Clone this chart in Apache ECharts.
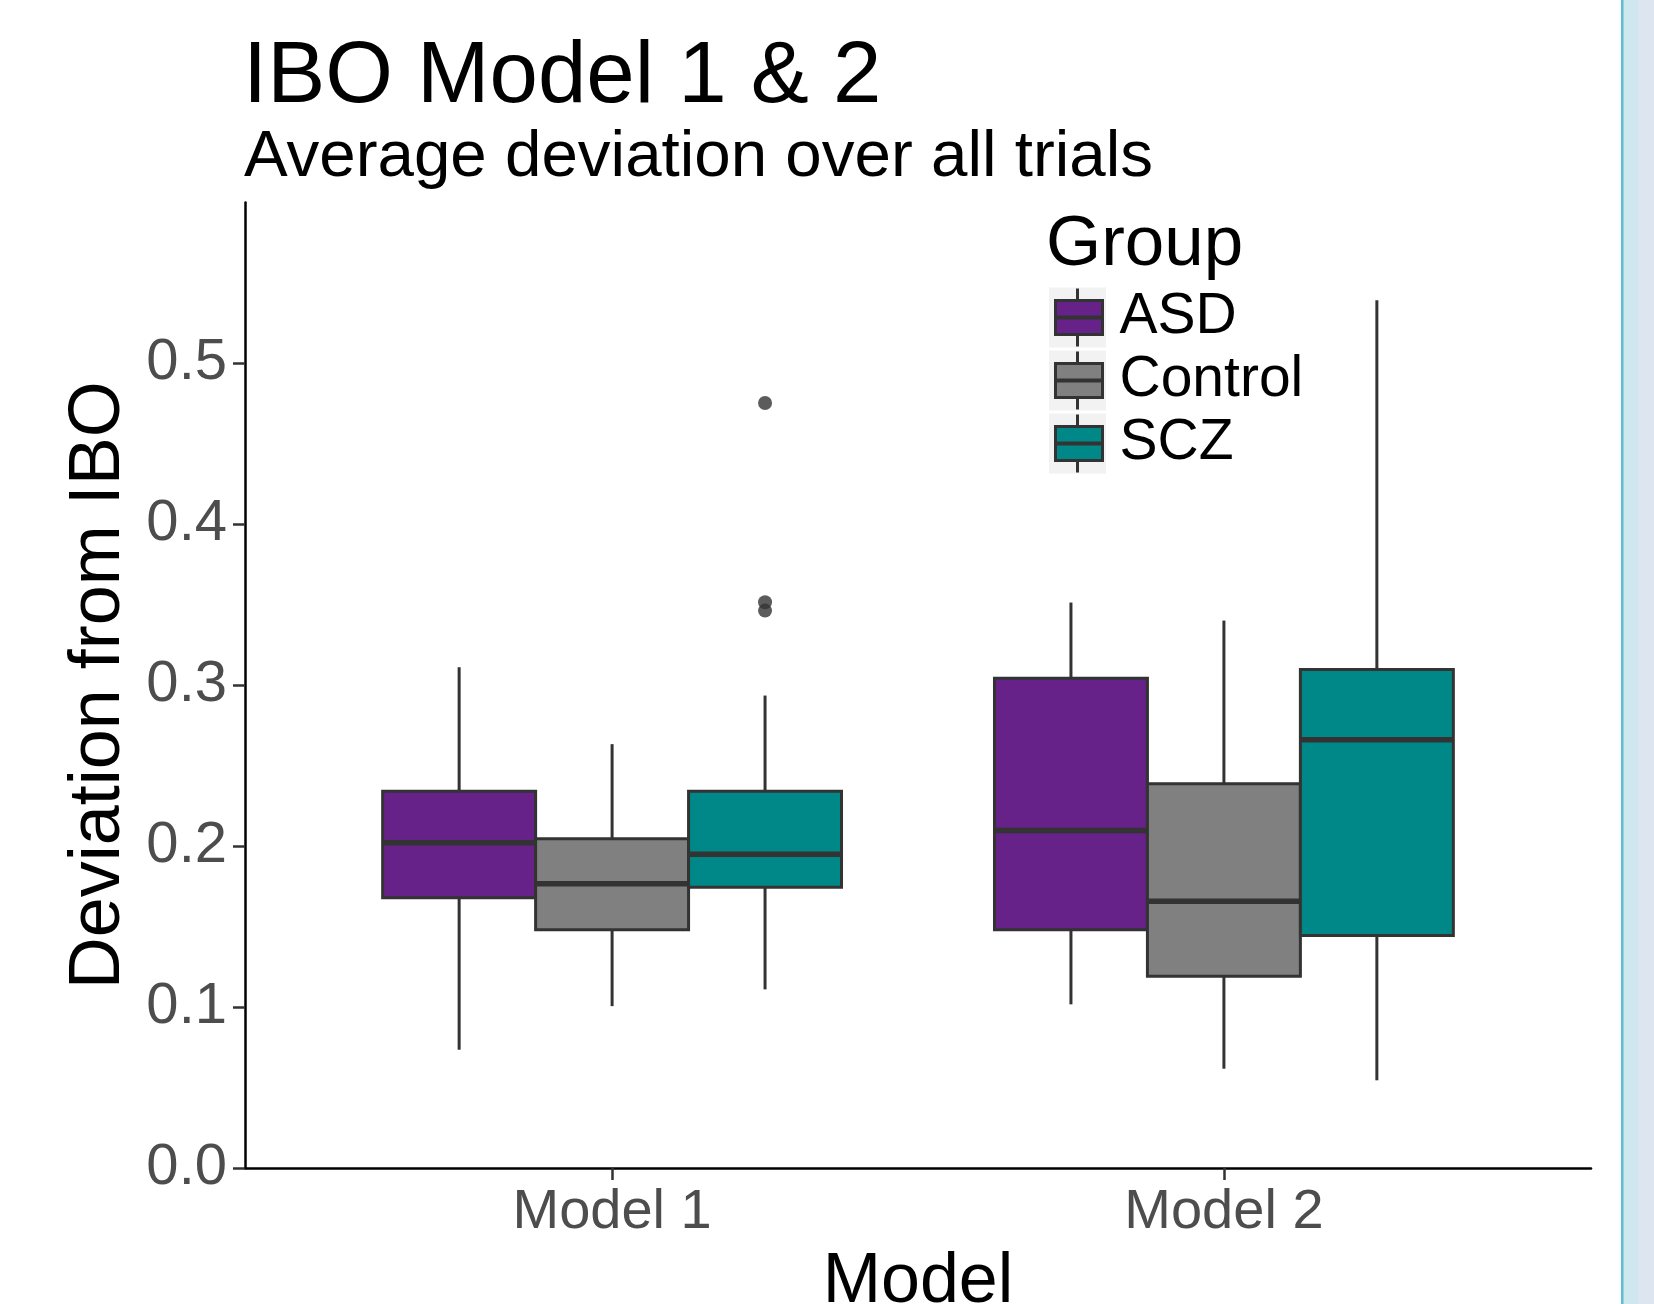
<!DOCTYPE html>
<html>
<head>
<meta charset="utf-8">
<script src="https://cdn.jsdelivr.net/npm/echarts@6/dist/echarts.min.js"></script>
<style>
html,body{margin:0;padding:0;background:#fff;}
#chart{width:1654px;height:1304px;}
</style>
</head>
<body>
<div id="chart"></div>
<script>
// ---- data ----
const categories = ['Model 1', 'Model 2'];
const groups = ['ASD', 'Control', 'SCZ'];
const groupColors = ['#662288', '#808080', '#008888'];
// [low whisker, Q1, median, Q3, high whisker] per model
const asdStats = [[0.0735, 0.1679, 0.2021, 0.2342, 0.3112], [0.1017, 0.1481, 0.2098, 0.3044, 0.3514]];
const controlStats = [[0.1006, 0.1481, 0.1766, 0.2046, 0.2634], [0.0617, 0.1191, 0.1658, 0.2388, 0.3402]];
const sczStats = [[0.1110, 0.1745, 0.1950, 0.2342, 0.2936], [0.0545, 0.1445, 0.2661, 0.3098, 0.5393]];
// outliers: [model index, value]
const sczOutliers = [[0, 0.4754], [0, 0.3516], [0, 0.3464]];
const yTicks = [0, 0.1, 0.2, 0.3, 0.4, 0.5];

const allStats = [asdStats, controlStats, sczStats];
const dodge = 0.25;
const FONT = 'Liberation Sans, Arial, sans-serif';

function makeSeries(gi) {
  const offset = (gi - 1) * dodge;
  const data = allStats[gi].map((s, mi) => [mi + 1 + offset].concat(s));
  return {
    name: groups[gi],
    type: 'custom',
    itemStyle: { color: groupColors[gi] },
    encode: { x: 0, y: [1, 2, 3, 4, 5] },
    data: data,
    renderItem: function (params, api) {
      const x = api.value(0);
      const w = api.size([dodge, 0])[0];
      const pLow = api.coord([x, api.value(1)]);
      const pQ1 = api.coord([x, api.value(2)]);
      const pMed = api.coord([x, api.value(3)]);
      const pQ3 = api.coord([x, api.value(4)]);
      const pHigh = api.coord([x, api.value(5)]);
      const cx = pMed[0];
      const ls = { stroke: '#333333', lineWidth: 3 };
      return {
        type: 'group',
        children: [
          { type: 'line', shape: { x1: cx, y1: pHigh[1], x2: cx, y2: pQ3[1] }, style: ls },
          { type: 'line', shape: { x1: cx, y1: pQ1[1], x2: cx, y2: pLow[1] }, style: ls },
          { type: 'rect', shape: { x: cx - w / 2, y: pQ3[1], width: w, height: pQ1[1] - pQ3[1] },
            style: { fill: groupColors[gi], stroke: '#333333', lineWidth: 3 } },
          { type: 'line', shape: { x1: cx - w / 2, y1: pMed[1], x2: cx + w / 2, y2: pMed[1] },
            style: { stroke: '#333333', lineWidth: 5.5 } }
        ]
      };
    }
  };
}

const series = [makeSeries(0), makeSeries(1), makeSeries(2)];
series.push({
  type: 'scatter',
  name: 'outliers',
  symbol: 'circle',
  symbolSize: 14,
  itemStyle: { color: '#333333' },
  silent: true,
  data: sczOutliers.map(o => [o[0] + 1 + dodge, o[1]])
});

// legend key decorations
const legendLeft = 1054, legendTop = 286, legendStep = 63, keyW = 47, keyH = 34;
const graphics = [
  { type: 'rect', z: 100, shape: { x: 1621, y: 0, width: 33, height: 1304 }, style: { fill: '#cfe7ee' } },
  { type: 'rect', z: 100, shape: { x: 1638, y: 0, width: 16, height: 1304 }, style: { fill: '#dde6f0' } },
  { type: 'rect', z: 100, shape: { x: 1621, y: 0, width: 2.5, height: 1304 }, style: { fill: '#5bbfcf' } }
];
groups.forEach((g, i) => {
  const cy = legendTop + legendStep * i + legendStep / 2;
  graphics.push({ type: 'rect', z: -10, shape: { x: legendLeft - 5, y: cy - 30, width: 57, height: 60 }, style: { fill: '#f2f2f2' } });
  graphics.push({ type: 'line', z: -5, shape: { x1: legendLeft + keyW / 2, y1: cy - 29, x2: legendLeft + keyW / 2, y2: cy + 29 }, style: { stroke: '#333333', lineWidth: 3 } });
  graphics.push({ type: 'line', z: 50, shape: { x1: legendLeft, y1: cy, x2: legendLeft + keyW, y2: cy }, style: { stroke: '#333333', lineWidth: 4 } });
});

const chart = echarts.init(document.getElementById('chart'), null, { renderer: 'canvas' });
chart.setOption({
  backgroundColor: '#ffffff',
  animation: false,
  title: [
    { text: 'IBO Model 1 & 2', left: 243, top: 35, padding: 0,
      textStyle: { fontFamily: FONT, fontSize: 87, fontWeight: 'normal', color: '#000' } },
    { text: 'Average deviation over all trials', left: 244, top: 125, padding: 0,
      textStyle: { fontFamily: FONT, fontSize: 65.5, fontWeight: 'normal', color: '#000' } },
    { text: 'Group', left: 1046, top: 210, padding: 0,
      textStyle: { fontFamily: FONT, fontSize: 71, fontWeight: 'normal', color: '#000' } }
  ],
  legend: {
    orient: 'vertical',
    left: legendLeft,
    top: legendTop,
    padding: 0,
    itemGap: 0,
    itemWidth: keyW,
    itemHeight: keyH,
    icon: 'rect',
    data: groups,
    selectedMode: false,
    itemStyle: { borderColor: '#333333', borderWidth: 3 },
    textStyle: { fontFamily: FONT, fontSize: 57, color: '#000', lineHeight: 51, padding: [12, 0, 0, 12] }
  },
  grid: { left: 245, right: 63, top: 202.5, bottom: 136, containLabel: false, outerBoundsMode: 'none' },
  xAxis: {
    type: 'value',
    min: 0.4,
    max: 2.6,
    name: 'Model',
    nameLocation: 'middle',
    nameGap: 80,
    nameTextStyle: { fontFamily: FONT, fontSize: 70, color: '#000' },
    splitLine: { show: false },
    axisLine: { show: true, onZero: false, lineStyle: { color: '#000', width: 2.5 } },
    axisTick: { show: true, length: 12, customValues: [1, 2], lineStyle: { color: '#333', width: 2.5 } },
    axisLabel: {
      customValues: [1, 2],
      formatter: v => categories[Math.round(v) - 1] || '',
      fontFamily: FONT, fontSize: 56, color: '#4d4d4d', margin: 17
    }
  },
  yAxis: {
    type: 'value',
    min: 0,
    max: 0.6,
    name: 'Deviation from IBO',
    nameLocation: 'middle',
    nameGap: 103,
    nameTextStyle: { fontFamily: FONT, fontSize: 72, color: '#000' },
    splitLine: { show: false },
    axisLine: { show: true, onZero: false, lineStyle: { color: '#000', width: 2.5 } },
    axisTick: { show: true, length: 12, customValues: yTicks, lineStyle: { color: '#333', width: 2.5 } },
    axisLabel: {
      customValues: yTicks,
      formatter: v => v.toFixed(1),
      fontFamily: FONT, fontSize: 58, color: '#4d4d4d', margin: 18
    }
  },
  graphic: graphics,
  series: series
});
</script>
</body>
</html>
